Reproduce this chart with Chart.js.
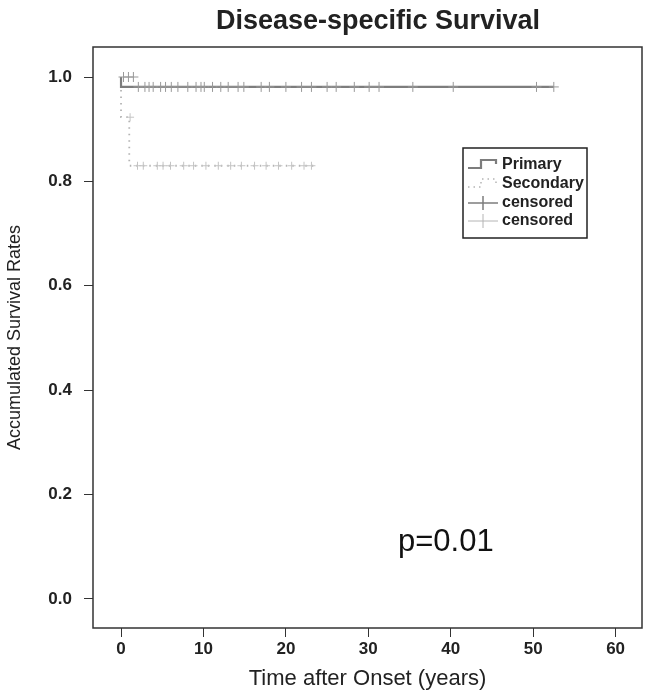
<!DOCTYPE html>
<html>
<head>
<meta charset="utf-8">
<script src="https://cdn.jsdelivr.net/npm/chart.js@4"></script>
<style>
html,body{margin:0;padding:0;background:#fff;}
#wrap{width:650px;height:696px;position:relative;}
</style>
</head>
<body>
<div id="wrap"><canvas id="c" width="650" height="696"></canvas></div>
<script>
// ---- data ----
const chartTitle = "Disease-specific Survival";
const xTitle = "Time after Onset (years)";
const yTitle = "Accumulated Survival Rates";
const xTicks = [0, 10, 20, 30, 40, 50, 60];
const yTicks = [0.0, 0.2, 0.4, 0.6, 0.8, 1.0];

// Kaplan-Meier step points (time, survival)
const primaryTimes = [0, 1.9, 52.5];
const primarySurv  = [1.0, 0.981, 0.981];
const secondaryTimes = [0, 1.0, 2.0, 23.5];
const secondarySurv  = [1.0, 0.923, 0.830, 0.830];

// censored observation times
const primaryCensorTimes = [0.3, 0.9, 1.5, 2.1, 2.9, 3.4, 3.9, 4.8, 5.4, 6.1, 6.9, 8.1, 9.1, 9.7, 10.1, 11.1, 12.1, 13.0, 14.2, 14.9, 17.0, 18.0, 20.0, 21.9, 23.1, 25.0, 26.1, 28.3, 30.1, 31.3, 35.4, 40.3, 50.4, 52.5];
const secondaryCensorTimes = [1.1, 2.0, 2.7, 4.4, 5.1, 6.0, 7.6, 8.8, 10.3, 11.8, 13.3, 14.6, 16.2, 17.6, 19.1, 20.7, 22.2, 23.1];

const pValueText = "p=0.01";
const pValuePos = [33.6, 0.108];

// ---- helpers ----
function survAt(times, surv, t) {
  let s = surv[0];
  for (let i = 0; i < times.length; i++) { if (times[i] <= t) s = surv[i]; }
  return s;
}
const pts = (xs, ys) => xs.map((x, i) => ({x: x, y: ys[i]}));
const censorPts = (ct, times, surv) => ct.map(t => ({x: t, y: survAt(times, surv, t)}));

const FONT = "'Liberation Sans', Arial, sans-serif";
const primaryColor = '#7d7d7d';
const secondaryColor = '#b4b4b4';

const decor = {
  id: 'decor',
  afterDraw(chart) {
    const {ctx, chartArea: a, scales} = chart;
    ctx.save();
    // frame
    ctx.strokeStyle = '#333';
    ctx.lineWidth = 1.5;
    ctx.strokeRect(a.left, a.top, a.right - a.left, a.bottom - a.top);
    // title
    ctx.fillStyle = '#222';
    ctx.font = "bold 27px " + FONT;
    ctx.textAlign = 'center';
    ctx.textBaseline = 'middle';
    ctx.fillText(chartTitle, 378, 22);
    // p value
    ctx.font = "31px " + FONT;
    ctx.textAlign = 'left';
    ctx.fillStyle = '#111';
    ctx.fillText(pValueText, scales.x.getPixelForValue(pValuePos[0]), scales.y.getPixelForValue(pValuePos[1]));
    // legend
    const lx = 463, ly = 148, lw = 124, lh = 90;
    ctx.strokeStyle = '#222';
    ctx.lineWidth = 1.5;
    ctx.strokeRect(lx, ly, lw, lh);
    ctx.font = "bold 16px " + FONT;
    ctx.fillStyle = '#222';
    ctx.textBaseline = 'middle';
    const rows = [165, 184, 203, 221];
    const labels = ['Primary', 'Secondary', 'censored', 'censored'];
    labels.forEach((lab, i) => ctx.fillText(lab, lx + 39, rows[i]));
    // primary symbol (step)
    ctx.strokeStyle = primaryColor; ctx.lineWidth = 2.2; ctx.setLineDash([]);
    ctx.beginPath();
    ctx.moveTo(lx + 5, rows[0] + 3); ctx.lineTo(lx + 18, rows[0] + 3);
    ctx.lineTo(lx + 18, rows[0] - 5); ctx.lineTo(lx + 33, rows[0] - 5); ctx.lineTo(lx + 33, rows[0] - 1);
    ctx.stroke();
    // secondary symbol (dotted step)
    ctx.strokeStyle = secondaryColor; ctx.lineWidth = 1.5; ctx.setLineDash([1.5, 4]);
    ctx.beginPath();
    ctx.moveTo(lx + 5, rows[1] + 3); ctx.lineTo(lx + 18, rows[1] + 3);
    ctx.lineTo(lx + 18, rows[1] - 5); ctx.lineTo(lx + 33, rows[1] - 5); ctx.lineTo(lx + 33, rows[1] - 1);
    ctx.stroke();
    ctx.setLineDash([]);
    // censored symbols
    [[primaryColor, rows[2], 1.5], [secondaryColor, rows[3], 1]].forEach(([col, y, w]) => {
      ctx.strokeStyle = col; ctx.lineWidth = w;
      ctx.beginPath();
      ctx.moveTo(lx + 5, y); ctx.lineTo(lx + 35, y);
      ctx.moveTo(lx + 20, y - 7); ctx.lineTo(lx + 20, y + 7);
      ctx.stroke();
    });
    ctx.restore();
  }
};

new Chart(document.getElementById('c'), {
  type: 'line',
  data: {
    datasets: [
      {label: 'Primary', data: pts(primaryTimes, primarySurv), stepped: 'after',
       borderColor: primaryColor, borderWidth: 2.2, pointRadius: 0, fill: false, order: 2},
      {label: 'Secondary', data: pts(secondaryTimes, secondarySurv), stepped: 'after',
       borderColor: secondaryColor, borderWidth: 1.8, borderDash: [1.5, 5], pointRadius: 0, fill: false, order: 3},
      {label: 'censored', data: censorPts(primaryCensorTimes, primaryTimes, primarySurv), showLine: false,
       pointStyle: 'cross', pointRadius: 5, borderColor: '#999', borderWidth: 1, order: 1},
      {label: 'censored', data: censorPts(secondaryCensorTimes, secondaryTimes, secondarySurv), showLine: false,
       pointStyle: 'cross', pointRadius: 4, borderColor: '#c4c4c4', borderWidth: 1, order: 1}
    ]
  },
  options: {
    responsive: false,
    animation: false,
    layout: {padding: {top: 47, right: 8, left: 0, bottom: 0}},
    plugins: {legend: {display: false}, tooltip: {enabled: false}, title: {display: false}},
    scales: {
      x: {
        type: 'linear', min: -3.4, max: 63.2,
        afterBuildTicks: s => { s.ticks = xTicks.map(v => ({value: v})); },
        afterFit: s => { s.height = 696 - 628; },
        grid: {drawOnChartArea: false, drawTicks: true, tickLength: 9, color: '#333', tickColor: '#333', lineWidth: 1},
        border: {display: false},
        ticks: {color: '#222', font: {family: FONT, size: 17, weight: 'bold'}, padding: 2, maxRotation: 0,
                callback: v => String(v)},
        title: {display: true, text: xTitle, color: '#222', font: {family: FONT, size: 22}, padding: {top: 4}}
      },
      y: {
        type: 'linear', min: -0.0556, max: 1.0575,
        afterBuildTicks: s => { s.ticks = yTicks.map(v => ({value: v})); },
        afterFit: s => { s.width = 93; },
        grid: {drawOnChartArea: false, drawTicks: true, tickLength: 9, color: '#333', tickColor: '#333', lineWidth: 1},
        border: {display: false},
        ticks: {color: '#222', font: {family: FONT, size: 17, weight: 'bold'}, padding: 12,
                callback: v => Number(v).toFixed(1)},
        title: {display: true, text: yTitle, color: '#222', font: {family: FONT, size: 18}, padding: {top: 4, bottom: 2}}
      }
    }
  },
  plugins: [decor]
});
</script>
</body>
</html>
